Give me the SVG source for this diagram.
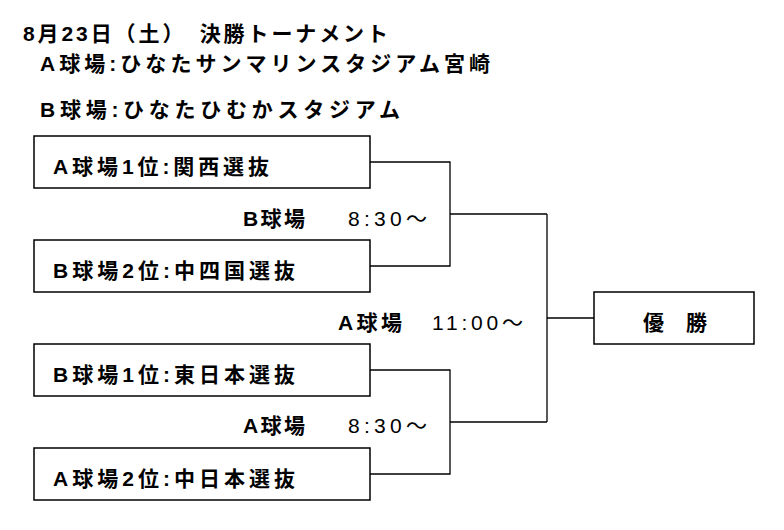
<svg xmlns="http://www.w3.org/2000/svg" width="784" height="530" viewBox="0 0 784 530">
<style>
text{font-family:"Liberation Sans","Noto Sans CJK JP","Noto Sans CJK SC",sans-serif;fill:#000;}
.h{font-size:21px;font-weight:bold;}
.b{font-size:21px;font-weight:bold;}
.t{font-size:21px;font-weight:normal;}
.box{fill:#fff;stroke:#000;stroke-width:1.5;}
.con{fill:none;stroke:#000;stroke-width:1.3;}
</style>
<rect width="784" height="530" fill="#fff"/>
<g id="header">
<text class="h" x="23" y="41" textLength="365" lengthAdjust="spacing">8月23日（土）　決勝トーナメント</text>
<text class="h" x="40" y="71" textLength="450" lengthAdjust="spacing">A球場:ひなたサンマリンスタジアム宮崎</text>
<text class="h" x="40" y="117" textLength="360" lengthAdjust="spacing">B球場:ひなたひむかスタジアム</text>
</g>
<g id="connectors">
<path class="con" d="M370,162 H450 V266 H370"/>
<path class="con" d="M450,214 H547"/>
<path class="con" d="M370,370 H450 V474 H370"/>
<path class="con" d="M450,422 H547"/>
<path class="con" d="M547,214 V422"/>
<path class="con" d="M547,318 H594"/>
</g>
<g id="team1">
<rect class="box" x="34" y="136" width="336" height="52"/>
<text class="b" x="53" y="174" textLength="216" lengthAdjust="spacing">A球場1位:関西選抜</text>
</g>
<g id="team2">
<rect class="box" x="34" y="240" width="336" height="52"/>
<text class="b" x="53" y="278" textLength="242" lengthAdjust="spacing">B球場2位:中四国選抜</text>
</g>
<g id="team3">
<rect class="box" x="34" y="344" width="336" height="52"/>
<text class="b" x="53" y="382" textLength="242" lengthAdjust="spacing">B球場1位:東日本選抜</text>
</g>
<g id="team4">
<rect class="box" x="34" y="448" width="336" height="52"/>
<text class="b" x="53" y="486" textLength="242" lengthAdjust="spacing">A球場2位:中日本選抜</text>
</g>
<g id="champion">
<rect class="box" x="594" y="292" width="160" height="52"/>
<text class="b" x="643" y="330" textLength="64" lengthAdjust="spacing">優　勝</text>
</g>
<g id="labels">
<text class="b" x="243" y="226" textLength="62" lengthAdjust="spacing">B球場</text>
<text class="t" x="348" y="226" textLength="79" lengthAdjust="spacing">8:30〜</text>
<text class="b" x="338" y="330" textLength="64" lengthAdjust="spacing">A球場</text>
<text class="t" x="432" y="330" textLength="91" lengthAdjust="spacing">11:00〜</text>
<text class="b" x="243" y="433" textLength="62" lengthAdjust="spacing">A球場</text>
<text class="t" x="348" y="433" textLength="79" lengthAdjust="spacing">8:30〜</text>
</g>
</svg>
